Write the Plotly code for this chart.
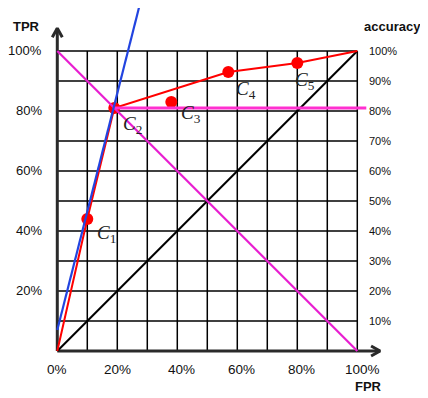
import plotly.graph_objects as go

# ---- data ----
fpr_ticks = [0.0, 0.2, 0.4, 0.6, 0.8, 1.0]
fpr_tick_labels = ["0%", "20%", "40%", "60%", "80%", "100%"]
tpr_ticks = [0.2, 0.4, 0.6, 0.8, 1.0]
tpr_tick_labels = ["20%", "40%", "60%", "80%", "100%"]
acc_ticks = [0.1, 0.2, 0.3, 0.4, 0.5, 0.6, 0.7, 0.8, 0.9, 1.0]
acc_tick_labels = ["10%", "20%", "30%", "40%", "50%", "60%", "70%", "80%", "90%", "100%"]
grid_vals = [0.1, 0.2, 0.3, 0.4, 0.5, 0.6, 0.7, 0.8, 0.9, 1.0]

classifier_names = ["1", "2", "3", "4", "5"]
classifier_fpr = [0.10, 0.19, 0.38, 0.57, 0.80]
classifier_tpr = [0.44, 0.81, 0.83, 0.93, 0.96]
label_xshift = [8, 7, 8, 6, -4]
label_yshift = [-15, -17, -12, -18, -18]
fpr_label_xshift = [0, 0, 4, 4, 4, 5]

hull_fpr = [0.0, 0.10, 0.19, 0.57, 0.80, 1.0]
hull_tpr = [0.0, 0.44, 0.81, 0.93, 0.96, 1.0]

random_fpr = [0.0, 1.0]
random_tpr = [0.0, 1.0]

iso_diag_fpr = [0.0, 1.0]
iso_diag_tpr = [1.0, 0.0]

iso_acc_fpr = [0.19, 1.03]
iso_acc_tpr = [0.81, 0.81]

tangent_fpr = [0.0, 0.275]
tangent_tpr = [0.07, 1.155]

axis_end = 1.076

# ---- figure ----
fig = go.Figure()

# grid
gx, gy = [], []
for v in grid_vals:
    gx += [v, v, None]
    gy += [0, 1, None]
    gx += [0, 1, None]
    gy += [v, v, None]
fig.add_trace(go.Scatter(x=gx, y=gy, mode="lines",
                         line=dict(color="black", width=1.5), hoverinfo="skip"))

# axes with arrow heads
dx_head = 5 / 300
dy_head = 9 / 300
ax_x = [0, 0, None, -dx_head, 0, dx_head, None,
        0, axis_end, None, axis_end - dy_head, axis_end, axis_end - dy_head]
ax_y = [0, axis_end, None, axis_end - dy_head, axis_end, axis_end - dy_head, None,
        0, 0, None, dx_head, 0, -dx_head]
fig.add_trace(go.Scatter(x=ax_x, y=ax_y, mode="lines",
                         line=dict(color="#2a2a2a", width=3), hoverinfo="skip"))

fig.add_trace(go.Scatter(x=random_fpr, y=random_tpr, mode="lines",
                         line=dict(color="black", width=2), hoverinfo="skip"))
fig.add_trace(go.Scatter(x=hull_fpr, y=hull_tpr, mode="lines",
                         line=dict(color="#ff0000", width=2), hoverinfo="skip"))
fig.add_trace(go.Scatter(x=classifier_fpr, y=classifier_tpr, mode="markers",
                         marker=dict(color="#ff0000", size=12), hoverinfo="skip"))
fig.add_trace(go.Scatter(x=iso_diag_fpr, y=iso_diag_tpr, mode="lines",
                         line=dict(color="#e81ed0", width=2.2), hoverinfo="skip"))
fig.add_trace(go.Scatter(x=iso_acc_fpr, y=iso_acc_tpr, mode="lines",
                         line=dict(color="#ff30d0", width=3), hoverinfo="skip"))
fig.add_trace(go.Scatter(x=tangent_fpr, y=tangent_tpr, mode="lines",
                         line=dict(color="#2244e0", width=2.2), hoverinfo="skip"))

ann = []
tick_font = dict(family="Liberation Sans, Arial, sans-serif", size=13.5, color="#111")
left_font = dict(family="Liberation Sans, Arial, sans-serif", size=13, color="#111")
for v, t, sx in zip(fpr_ticks, fpr_tick_labels, fpr_label_xshift):
    ann.append(dict(x=v, y=-0.063, text=t, showarrow=False, xanchor="center",
                    yanchor="middle", xshift=sx, font=tick_font))
for v, t in zip(tpr_ticks, tpr_tick_labels):
    ann.append(dict(x=-0.0493, y=v, text=t, showarrow=False, xanchor="right",
                    yanchor="middle", borderpad=0, font=left_font))
for v, t in zip(acc_ticks, acc_tick_labels):
    ann.append(dict(x=1.032, y=v, text=t, showarrow=False, xanchor="left",
                    yanchor="middle",
                    font=dict(family="Liberation Sans, Arial, sans-serif", size=11, color="#111")))

bold_font = dict(family="Liberation Sans, Arial, sans-serif", size=13, color="#111")
ann.append(dict(x=-0.101, y=1.083, text="<b>TPR</b>", showarrow=False,
                xanchor="center", yanchor="middle", font=bold_font))
ann.append(dict(x=1.118, y=1.083, text="<b>accuracy</b>", showarrow=False,
                xanchor="center", yanchor="middle", font=bold_font))
ann.append(dict(x=1.038, y=-0.12, text="<b>FPR</b>", showarrow=False,
                xanchor="center", yanchor="middle", font=bold_font))

for n, x, y, sx, sy in zip(classifier_names, classifier_fpr, classifier_tpr,
                           label_xshift, label_yshift):
    ann.append(dict(x=x, y=y, text="<i>C</i><sub>" + n + "</sub>", showarrow=False,
                    xanchor="left", yanchor="middle", xshift=sx, yshift=sy,
                    font=dict(family="Liberation Serif, serif", size=19, color="#222")))

# page body has an 8px margin, so the figure is 420x390 and offset by 8px
fig.update_layout(
    width=420, height=390,
    margin=dict(l=0, r=0, t=0, b=0),
    paper_bgcolor="white", plot_bgcolor="white",
    showlegend=False,
    xaxis=dict(range=[-0.1643, 1.2357], visible=False, fixedrange=True),
    yaxis=dict(range=[-0.1567, 1.1433], visible=False, fixedrange=True),
    annotations=ann,
    hovermode=False,
)

fig.write_html("out.html", config={"displayModeBar": False})
